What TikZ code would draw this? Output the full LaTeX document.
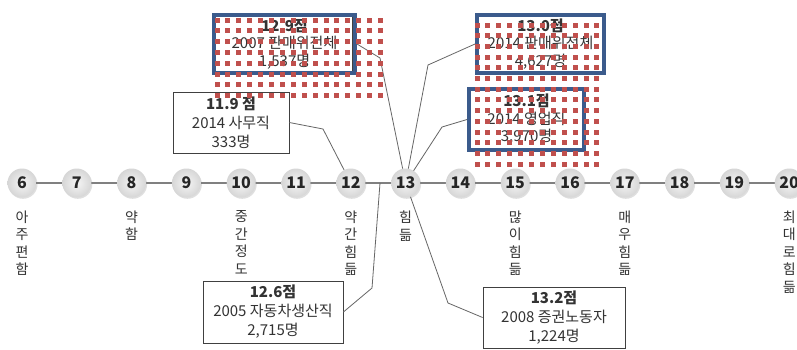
\documentclass[tikz,border=0pt]{standalone}
\usepackage{fontspec}
\setmainfont{Noto Sans CJK KR}
\usetikzlibrary{shadows}
\definecolor{boxblue}{HTML}{3B5B8C}
\definecolor{dotred}{HTML}{C0504D}
\begin{document}
\begin{tikzpicture}[x=1pt,y=-1pt,
  num/.style={circle, minimum size=29pt, inner sep=0pt, shading=radial,
    inner color=gray!8, outer color=gray!32,
    font=\fontsize{16}{16}\selectfont\bfseries, text=black!85,
    drop shadow={opacity=0.25, shadow xshift=1pt, shadow yshift=-1.3pt}},
  vlabel/.style={anchor=north, align=center, inner sep=0pt,
    font=\fontsize{14}{17.5}\selectfont, text=black!80},
  infobox/.style={draw=black!75, line width=0.8pt, fill=white, align=center,
    inner sep=0pt, font=\fontsize{15}{19}\selectfont, text=black!80},
  bluebox/.style={draw=boxblue, line width=4pt, fill=white, align=center,
    inner sep=0pt, font=\fontsize{15}{17.5}\selectfont, text=black!80},
  conn/.style={draw=black!60, line width=0.8pt},
  dotgrid/.style={fill=dotred}
]
\useasboundingbox (0,0) rectangle (797,349);
\fill[white] (0,0) rectangle (797,349);

% scale nodes
\foreach \k [count=\i from 0] in {6,...,20} {
  \coordinate (p\k) at (22+\i*54.8,183);
}
\draw[black!50, line width=2pt] (p6) -- (p20);
\foreach \k in {6,...,20} {
  \node[num] (c\k) at (p\k) {\k};
}

% vertical labels
\node[vlabel] (l6)  at ([yshift=-13pt]c6.south)  {아\\주\\편\\함};
\node[vlabel] (l8)  at ([yshift=-13pt]c8.south)  {약\\함};
\node[vlabel] (l10) at ([yshift=-13pt]c10.south) {중\\간\\정\\도};
\node[vlabel] (l12) at ([yshift=-13pt]c12.south) {약\\간\\힘\\듦};
\node[vlabel] (l13) at ([yshift=-13pt]c13.south) {힘\\듦};
\node[vlabel] (l15) at ([yshift=-13pt]c15.south) {많\\이\\힘\\듦};
\node[vlabel] (l17) at ([yshift=-13pt]c17.south) {매\\우\\힘\\듦};
\node[vlabel] (l20) at ([yshift=-13pt]c20.south) {최\\대\\로\\힘\\듦};

% info boxes
\node[infobox, minimum width=116pt, minimum height=61pt] (b119) at (231,122.5)
  {\textbf{11.9} \textbf{점}\\2014 사무직\\333명};
\node[infobox, minimum width=140pt, minimum height=62pt] (b126) at (273,312)
  {\textbf{12.6점}\\2005 자동차생산직\\2,715명};
\node[infobox, minimum width=142pt, minimum height=61pt] (b132) at (554,317.5)
  {\textbf{13.2점}\\2008 증권노동자\\1,224명};
\node[bluebox, minimum width=141pt, minimum height=58pt] (b129) at (284.5,44)
  {\textbf{12.9점}\\2007 판매위전체\\1,537명};
\draw[black!75, line width=0.7pt] (352,17) -- (352,71);
\node[bluebox, minimum width=127pt, minimum height=58pt] (b130) at (540.5,44)
  {\textbf{13.0점}\\2014 판매위전체\\4,627명};
\node[bluebox, minimum width=115pt, minimum height=61pt] (b131) at (526.5,119.5)
  {\textbf{13.1점}\\2014 영업직\\3,970명};

% connectors
\coordinate (j) at (380,183);
\draw[conn] (b119.east) -- (323,129) -- (c12);
\draw[conn] (b129.east) -- (380,58) -- (c13);
\draw[conn] (b130.west) -- (428,65) -- (c13);
\draw[conn] (b131.west) -- (442,127) -- (c13);
\draw[conn] (b126.east) -- (372,288) -- (j);
\draw[conn] (b132.west) -- (448,303) -- (c13);

% red dotted overlays
\foreach \i in {0,...,15} {
  \foreach \j in {0,...,7} {
    \fill[dotgrid] ({217+\i*10.9-2.5},{20+\j*10.8-2.5}) rectangle ++(5,5);
  }
}
\foreach \i in {0,...,11} {
  \foreach \j in {0,...,13} {
    \fill[dotgrid] ({477+\i*10.9-2.5},{25+\j*10.7-2.5}) rectangle ++(5,5);
  }
}
\end{tikzpicture}
\end{document}
